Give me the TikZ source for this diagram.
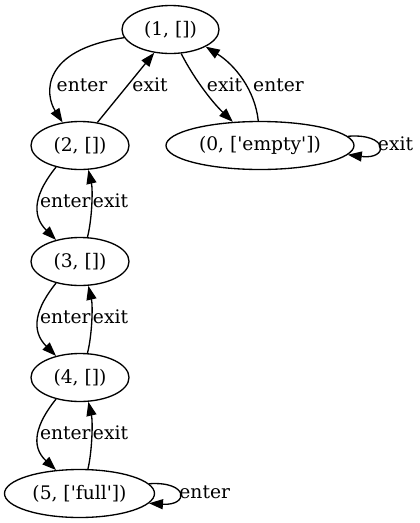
\documentclass[tikz,border=0pt]{standalone}
\usepackage{fontspec}
\setmainfont{DejaVu Serif}[Ligatures=TeXOff]
\usetikzlibrary{arrows.meta,shapes.geometric}
\begin{document}
\begin{tikzpicture}[x=1pt,y=-1pt,
  state/.style={draw,ellipse,line width=1.33pt,inner sep=0pt,minimum height=48pt,minimum width=98pt,font=\fontsize{18.67}{22}\selectfont},
  edge/.style={line width=1.33pt,-{Triangle[length=14pt,width=10pt]}},
  lbl/.style={inner sep=0pt,anchor=base,font=\fontsize{18.67}{22}\selectfont}]
\useasboundingbox (0,0) rectangle (420,523);
\node[state,minimum width=97pt] (n1) at (170.5,29.5) {(1, [])};
\node[state] (n2) at (80,145.5) {(2, [])};
\node[state,minimum width=188pt] (n0) at (260,145.5) {(0, ['empty'])};
\node[state] (n3) at (80,261.5) {(3, [])};
\node[state] (n4) at (80,377.5) {(4, [])};
\node[state,minimum width=150pt] (n5) at (79.5,493.5) {(5, ['full'])};
% 1 <-> 2
\draw[edge] (n1.190) .. controls (40,50) and (45,95) .. (n2.127);
\draw[edge] (n2.53) -- (n1.235);
\node[lbl] (l12) at (82,91.5) {enter};
\node[lbl] (l21) at (150,91.5) {exit};
% 1 <-> 0
\draw[edge] (n1.294) .. controls (192,75) and (210,100) .. (n0.139);
\draw[edge] (n0.94) .. controls (255,90) and (235,65) .. (n1.334);
\node[lbl] (l10) at (224.5,91.5) {exit};
\node[lbl] (l01) at (278.5,91.5) {enter};
\draw[edge] (n0.6.5) .. controls (389,133) and (389,160) .. (n0.354);
\node[lbl] (l00) at (395.5,150) {exit};
% 2 <-> 3
\draw[edge] (n2.222) .. controls (36,192) and (30,214) .. (n3.138);
\draw[edge] (n3.73) .. controls (92,220) and (93,190) .. (n2.289);
\node[lbl] (l23) at (65.3,207.3) {enter};
\node[lbl] (l32) at (110.5,207.3) {exit};
% 3 <-> 4
\draw[edge] (n3.222) .. controls (36,308) and (30,330) .. (n4.138);
\draw[edge] (n4.73) .. controls (92,336) and (93,306) .. (n3.289);
\node[lbl] (l34) at (65.3,323.3) {enter};
\node[lbl] (l43) at (110.5,323.3) {exit};
% 4 <-> 5
\draw[edge] (n4.222) .. controls (36,424) and (30,446) .. (n5.135);
\draw[edge] (n5.71) .. controls (92,452) and (93,422) .. (n4.289);
\node[lbl] (l45) at (65.3,439.3) {enter};
\node[lbl] (l54) at (110.5,439.3) {exit};
\draw[edge] (n5.8.7) .. controls (189,481) and (189,506) .. (n5.352.5);
\node[lbl] (l55) at (204.7,498.3) {enter};
\end{tikzpicture}
\end{document}
